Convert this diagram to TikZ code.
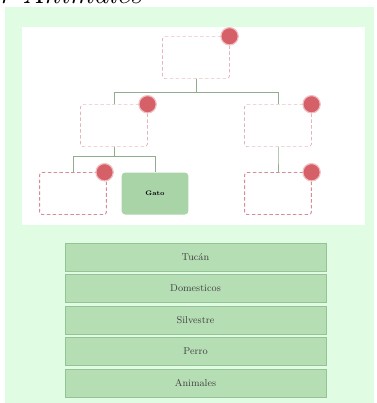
\documentclass[tikz,border=0pt]{standalone}
\usepackage{tikz}
\usetikzlibrary{positioning}
\usetikzlibrary{trees}
\definecolor{bggreen}{RGB}{224,252,226}
\definecolor{boxred}{RGB}{212,140,150}
\definecolor{dotred}{RGB}{214,96,104}
\definecolor{linegreen}{RGB}{145,172,145}
\definecolor{gatofill}{RGB}{168,212,168}
\definecolor{rowfill}{RGB}{182,222,180}
\definecolor{rowdraw}{RGB}{150,195,150}
\tikzset{
  cajon/.style = {rectangle, rounded corners=2pt, draw=boxred, densely dashed,
    minimum width=2cm, minimum height=1.26cm, inner sep=0pt},% caja vacia
  cajon_g/.style = {rectangle, rounded corners=3pt, fill=gatofill,
    minimum width=2cm, minimum height=1.26cm, inner sep=0pt,
    font=\fontsize{5.5}{6}\selectfont\bfseries},% caja verde
  punto/.style = {circle, fill=dotred, draw=dotred!40, line width=1pt,
    minimum size=0.52cm, inner sep=0pt},% punto rojo
  fila/.style = {rectangle, fill=rowfill, draw=rowdraw, minimum width=7.83cm,
    minimum height=0.84cm, inner sep=0pt, text=black!75,
    font=\fontsize{8.5}{10}\selectfont}% fila de la lista
}

\begin{document}
\begin{tikzpicture}[level distance=2.04cm,
  edge from parent/.style={draw=linegreen, thick},
  level 1/.style={sibling distance=4.92cm,
    edge from parent path={(\tikzparentnode.south) -- +(0,-0.42) -| (\tikzchildnode.north)}},
  level 2/.style={sibling distance=2.46cm,
    edge from parent path={(\tikzparentnode.south) -- +(0,-0.3) -| (\tikzchildnode.north)}}]
\useasboundingbox (0,0) rectangle (11.28,-12.09);
\fill[bggreen] (0.15,-0.21) rectangle (11.22,-12.09);
\fill[white] (0.66,-0.81) rectangle (10.95,-6.75);
\node[anchor=base west, font=\fontsize{26}{30}\selectfont\itshape] (titulo) at (-0.15,-0.09) {r Animales};

\node [cajon] (raiz) at (5.88,-1.725) {}
child {
	node [cajon] (dom) {}
	child {
		node [cajon] (perro) {}
	}
	child {
		node [cajon_g] (gato) {Gato}
	}
}
child {
	node [cajon] (sil) {}
	child {
		node [cajon] (tucan) {}
	}
};
\node [punto] (p1) at (raiz.north east) {};
\node [punto] (p2) at (dom.north east) {};
\node [punto] (p3) at (sil.north east) {};
\node [punto] (p4) at ([xshift=-0.06cm]perro.north east) {};
\node [punto] (p5) at (tucan.north east) {};

% lista de abajo
\node [fila] (r1) at (5.865,-7.71) {Tucán};
\node [fila, below=0.09cm of r1] (r2) {Domesticos};
\node [fila, below=0.09cm of r2] (r3) {Silvestre};
\node [fila, below=0.09cm of r3] (r4) {Perro};
\node [fila, below=0.09cm of r4] (r5) {Animales};
\end{tikzpicture}
\end{document}
